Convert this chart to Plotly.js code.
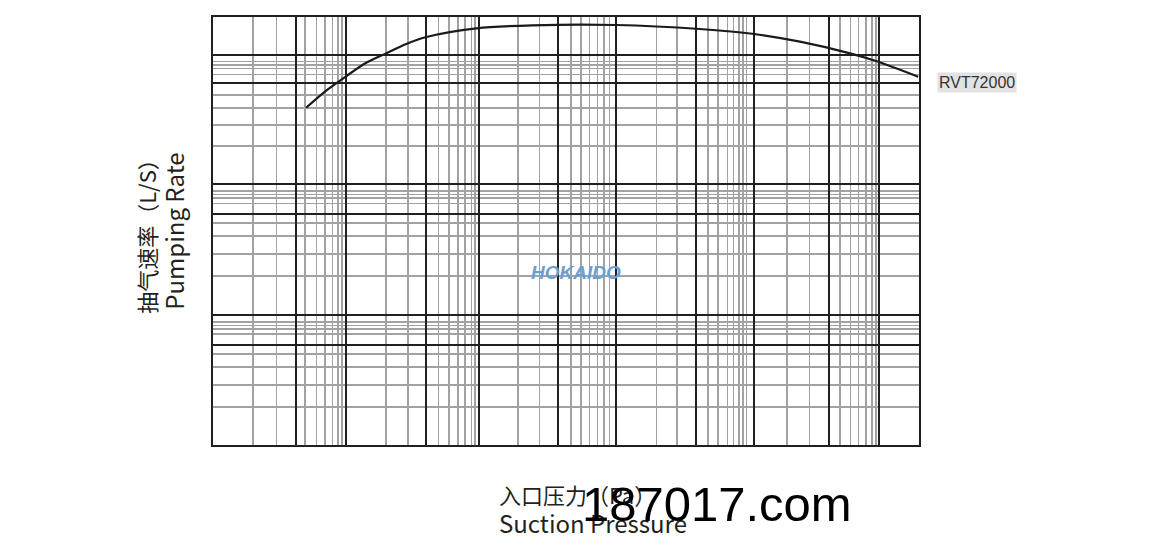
<!DOCTYPE html>
<html>
<head>
<meta charset="utf-8">
<script src="https://cdn.plot.ly/plotly-3.0.1.min.js"></script>
<style>
  html, body { margin: 0; padding: 0; background: #ffffff; }
  #chart { width: 1160px; height: 550px; }
</style>
</head>
<body>
<div id="chart"></div>
<script>
// Curve: suction pressure (Pa) vs pumping rate (L/S) for RVT72000
const seriesName = 'RVT72000';
const pressure = [0.5, 0.7, 1.0, 1.38, 1.96, 2.76, 4.0, 9.5, 25, 107, 450, 1160, 2550, 6060, 9880, 19700];
const pumpRate = [3930, 5280, 6860, 8600, 10200, 12050, 13760, 16050, 16920, 17010, 15850, 14500, 12660, 10300, 8880, 6810];

// Grid values (dark and light grid lines)
const xMajorGrid = [0.42, 1, 4, 9.85, 38.9, 106, 421, 1158, 4178, 9950];
const xMinorGrid = [0.2, 0.3, 0.49, 0.6, 0.69, 0.79, 0.87, 0.93,
  2.0, 2.9, 4.93, 5.91, 6.91, 7.8, 8.72, 9.27,
  19.5, 28.3, 48.7, 57.9, 66.9, 76.8, 86.2, 94.8,
  214, 306, 520, 618, 729, 806, 889, 953, 1009,
  2038, 2998, 5070, 6109, 7018, 8015, 8815, 9462];
const yMajorGrid = [59.1, 100, 602, 1012, 6058, 10000];
const yMinorGrid = [19.6, 28.9, 40.0, 49.9, 71.4, 78.0, 83.3, 88.4,
  200, 295, 407, 508, 723, 794, 848, 899,
  1995, 2894, 3932, 4924, 7102, 7900, 8375, 8883];

const xTitleCn = '入口压力（Pa）';
const xTitleEn = 'Suction Pressure';
const yTitleCn = '抽气速率（L/S）';
const yTitleEn = 'Pumping Rate';

const dark = '#231f20';
const light = '#a2a2a2';
const titleFont = { family: 'Noto Sans CJK SC, Noto Sans, sans-serif', size: 22, color: '#231f20' };

const trace = {
  x: pressure,
  y: pumpRate,
  type: 'scatter',
  mode: 'lines',
  name: seriesName,
  line: { color: '#1a1a1a', width: 2.2, shape: 'spline', smoothing: 0.8 },
  showlegend: false,
  hoverinfo: 'x+y'
};

const layout = {
  width: 1160,
  height: 550,
  margin: { l: 213, r: 241, t: 17, b: 105 },
  paper_bgcolor: '#ffffff',
  plot_bgcolor: '#ffffff',
  showlegend: false,
  xaxis: {
    type: 'log',
    range: [-1, 4.3003],
    tickmode: 'array',
    tickvals: xMajorGrid,
    showticklabels: false,
    ticks: '',
    showgrid: true,
    gridcolor: dark,
    gridwidth: 2,
    minor: { tickmode: 'array', tickvals: xMinorGrid, showgrid: true, gridcolor: light, gridwidth: 1.6, ticks: '' },
    showline: true,
    mirror: true,
    linecolor: dark,
    linewidth: 2,
    zeroline: false,
    fixedrange: true
  },
  yaxis: {
    type: 'log',
    range: [1, 4.2923],
    tickmode: 'array',
    tickvals: yMajorGrid,
    showticklabels: false,
    ticks: '',
    showgrid: true,
    gridcolor: dark,
    gridwidth: 2,
    minor: { tickmode: 'array', tickvals: yMinorGrid, showgrid: true, gridcolor: light, gridwidth: 1.6, ticks: '' },
    showline: true,
    mirror: true,
    linecolor: dark,
    linewidth: 2,
    zeroline: false,
    fixedrange: true,
    title: { text: yTitleCn + '<br><span style="font-size:24px">' + yTitleEn + '</span>', font: titleFont, standoff: 20 }
  },
  annotations: [
    {
      xref: 'paper', yref: 'paper', x: 1.0255, y: 0.848,
      xanchor: 'left', yanchor: 'middle',
      text: seriesName, showarrow: false,
      font: { family: 'Liberation Sans, Arial, sans-serif', size: 16, color: '#333333' },
      bgcolor: '#e2e2e2', borderpad: 1
    },
    {
      xref: 'paper', yref: 'paper', x: 0.514, y: 0.404,
      xanchor: 'center', yanchor: 'middle',
      text: '<b><i>HOKAIDO</i></b>', showarrow: false,
      font: { family: 'Liberation Sans, Arial, sans-serif', size: 19, color: '#6a9fd4' }
    },
    {
      xref: 'paper', yref: 'paper', x: 0.4023, y: -0.149,
      xanchor: 'left', yanchor: 'middle', align: 'left',
      text: xTitleCn + '<br><span style="font-size:24px">' + xTitleEn + '</span>', showarrow: false,
      font: titleFont
    },
    {
      xref: 'paper', yref: 'paper', x: 0.5195, y: -0.138,
      xanchor: 'left', yanchor: 'middle',
      text: '187017.com', showarrow: false,
      font: { family: 'Liberation Sans, Arial, sans-serif', size: 49, color: '#000000' }
    }
  ]
};

Plotly.newPlot('chart', [trace], layout, { displayModeBar: false, staticPlot: true });
</script>
</body>
</html>
